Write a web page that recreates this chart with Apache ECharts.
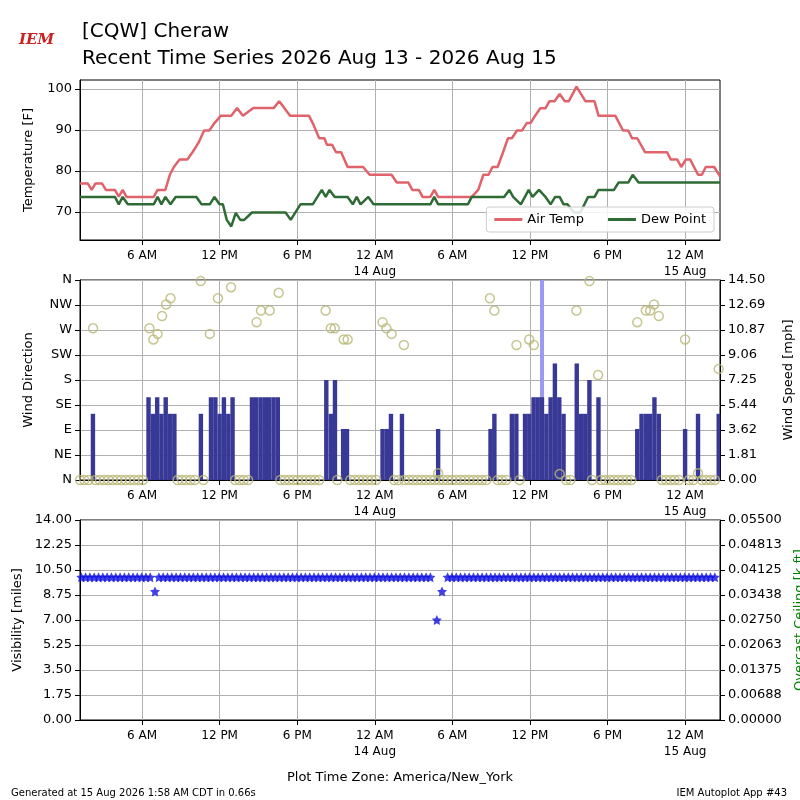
<!DOCTYPE html>
<html>
<head>
<meta charset="utf-8">
<script src="https://cdn.jsdelivr.net/npm/echarts@6/dist/echarts.min.js"></script>
<style>
html,body{margin:0;padding:0;background:#fff;}
#main{width:800px;height:800px;}
</style>
</head>
<body>
<div id="main"></div>
<script>
// hours relative to 13 Aug 6 AM (America/New_York)
var xMin = -4.8, xMax = 44.7;
var xTicks = [0, 6, 12, 18, 24, 30, 36, 42];

var airTemp = [[-4.8,77],[-4.2,77],[-3.9,75.4],[-3.6,77],[-3.1,77],[-2.8,75.4],[-2.1,75.4],[-1.8,73.8],[-1.5,75.4],[-1.2,73.7],
	[0.9,73.7],[1.2,75.4],[1.8,75.4],[2.15,79.1],[2.46,81],[2.9,82.8],[3.5,82.8],[3.9,84.6],[4.35,86.8],[4.8,89.9],
	[5.2,89.9],[5.6,91.7],[6.1,93.5],[6.9,93.5],[7.35,95.4],[7.8,93.5],[8.6,95.4],[10.2,95.4],[10.6,97],[11,95.4],
	[11.45,93.5],[12.9,93.5],[13.2,91.7],[13.7,88],[14.1,88],[14.3,86.4],[14.7,86.4],[15,84.6],[15.4,84.6],[15.9,81],
	[17.1,81],[17.6,79.1],[19.3,79.1],[19.7,77.2],[20.6,77.2],[20.9,75.4],[21.4,75.4],[21.7,73.7],[22.3,73.7],[22.6,75.4],
	[22.9,73.7],[25.5,73.7],[26,75.4],[26.4,79.1],[26.8,79.1],[27.1,81],[27.5,81],[27.9,84.4],[28.3,88],[28.6,88],
	[29,89.9],[29.4,89.9],[29.75,91.7],[30.05,91.7],[30.4,93.5],[30.8,95.3],[31.2,95.3],[31.5,97],[31.9,97],[32.3,98.8],
	[32.7,97],[33,97],[33.6,100.6],[34.3,97],[35,97],[35.3,93.5],[36.6,93.5],[37.2,89.9],[37.6,89.9],[37.9,88],
	[38.3,88],[38.9,84.6],[40.6,84.6],[40.9,82.8],[41.4,82.8],[41.7,81],[42.05,82.8],[42.4,82.8],[43,79.1],[43.3,79.1],
	[43.6,81],[44.25,81],[44.7,78.7]];

var dewPoint = [[-4.8,73.7],[-2.1,73.7],[-1.8,71.9],[-1.5,73.7],[-1.1,71.9],[0.9,71.9],[1.2,73.7],[1.5,71.9],[1.8,73.7],
	[2.2,71.9],[2.6,73.7],[4.2,73.7],[4.6,71.9],[5.24,71.9],[5.6,73.7],[5.99,71.9],[6.25,71.9],[6.55,68.1],[6.9,66.5],
	[7.25,69.8],[7.6,68.1],[7.9,68.1],[8.5,69.9],[11.1,69.9],[11.5,68.1],[12.25,71.9],[13.2,71.9],[13.9,75.4],[14.2,73.7],
	[14.5,75.4],[14.9,73.7],[15.9,73.7],[16.3,71.9],[16.6,73.7],[16.9,71.9],[17.5,73.7],[17.9,71.9],[22.3,71.9],[22.6,73.7],
	[22.9,71.9],[25.2,71.9],[25.5,73.7],[28,73.7],[28.4,75.4],[28.7,73.7],[29.3,71.9],[29.9,75.4],[30.2,73.7],[30.7,75.4],
	[31.2,73.7],[31.6,71.9],[31.95,73.7],[32.3,73.7],[32.6,71.9],[32.9,71.9],[33.4,69.9],[33.9,69.9],[34.5,73.7],[35,73.7],
	[35.3,75.4],[36.5,75.4],[36.85,77.2],[37.6,77.2],[37.95,79.1],[38.4,77.2],[44.7,77.2]];

var windSpeed = [[-3.8,4.8],
	[0.5,6.0],[0.83,4.8],[1.17,6.0],[1.5,4.8],[1.83,6.0],[2.17,4.8],[2.5,4.8],
	[4.55,4.8],
	[5.33,6.0],[5.67,6.0],[6.0,4.8],[6.33,6.0],[6.67,4.8],[7.0,6.0],
	[8.5,6.0],[8.83,6.0],[9.17,6.0],[9.5,6.0],[9.83,6.0],[10.17,6.0],[10.5,6.0],
	[14.25,7.25],[14.6,4.8],[14.92,7.25],
	[15.55,3.7],[15.85,3.7],
	[18.6,3.7],[18.93,3.7],[19.25,4.8],
	[20.1,4.8],
	[22.9,3.7],
	[26.95,3.7],[27.25,4.8],
	[28.6,4.8],[28.95,4.8],
	[29.62,4.8],[29.95,4.8],[30.28,6.0],[30.6,6.0],[30.93,6.0],[31.27,4.8],[31.6,6.0],[31.93,8.45],[32.27,6.0],[32.6,4.8],
	[33.62,8.45],[33.95,4.8],[34.28,4.8],[34.6,7.25],
	[35.3,6.0],
	[38.3,3.7],[38.63,4.8],[38.97,4.8],[39.3,4.8],[39.63,6.0],[39.97,4.8],
	[42.0,3.7],
	[43.0,4.8],
	[44.6,4.8]];

var windGust = [[30.95,14.5]];

var windDir = [[-3.79,273],[0.57,273],[0.88,253],[1.2,263],[1.55,295],[1.86,316],[2.2,327],[4.54,358],[5.24,263],[5.87,327],
	[6.88,347],[8.86,284],[9.2,305],[9.87,305],[10.57,337],[14.2,305],[14.6,273],[14.9,273],[15.6,253],[15.9,253],
	[18.6,284],[18.9,273],[19.3,263],[20.25,243],[22.9,12],[26.9,327],[27.25,305],[28.96,243],[29.94,253],[30.3,243],
	[32.3,11],[33.6,305],[34.6,358],[35.27,189],[38.3,284],[38.96,305],[39.3,305],[39.6,316],[39.97,295],[42.0,253],
	[43.0,12],[44.6,200]];

// periods of calm (direction 0), 20 minute observations
var calmSpans = [[-4.8,-3.95],[-3.6,0.2],[2.75,4.4],[4.75,5.0],[7.2,8.2],[10.7,14.0],[15.1,15.3],[16.1,18.4],[19.5,20.0],
	[20.3,26.8],[27.5,28.3],[29.2,29.3],[32.8,33.4],[34.8,35.1],[35.5,38.1],[40.2,41.7],[42.3,42.7],[43.3,44.4]];

var visSpan = [-4.7, 44.6];
var visLow = [[1.0,9.0],[22.8,7.0],[23.2,9.0]];

var dirLabels = ['N','NE','E','SE','S','SW','W','NW','N'];
var windTickLabels = ['0.00','1.81','3.62','5.44','7.25','9.06','10.87','12.69','14.50'];
var visTickLabels = ['0.00','1.75','3.50','5.25','7.00','8.75','10.50','12.25','14.00'];
var ceilTickLabels = ['0.00000','0.00688','0.01375','0.02063','0.02750','0.03438','0.04125','0.04813','0.05500'];

var calm = [];
calmSpans.forEach(function(s){
	for (var t = s[0]; t <= s[1] + 0.01; t += 1/3) calm.push([t, 0]);
});
var vis = [];
for (var t = visSpan[0]; t <= visSpan[1] + 0.01; t += 1/3) {
	var skip = false;
	visLow.forEach(function(v){ if (Math.abs(v[0] - t) < 0.17) skip = true; });
	if (!skip) vis.push([t, 10]);
}
visLow.forEach(function(v){ vis.push(v); });

var font = 'DejaVu Sans';
var star = 'path://M0,-10L2.9,-4L9.5,-3.1L4.8,1.5L5.9,8.1L0,5L-5.9,8.1L-4.8,1.5L-9.5,-3.1L-2.9,-4Z';

var xLabel = function(v){
	var h = ((Math.round(v) % 24) + 24) % 24;
	if (h == 0) return '6 AM';
	if (h == 6) return '12 PM';
	if (h == 12) return '6 PM';
	return '12 AM\n' + (v < 24 ? '14 Aug' : '15 Aug');
};

var xAxisFor = function(idx){
	return {
		type: 'value', gridIndex: idx, min: xMin, max: xMax,
		axisLine: {onZero: false, lineStyle: {color: '#000'}},
		axisTick: {show: true, customValues: xTicks, lineStyle: {color: '#000'}},
		axisLabel: {customValues: xTicks, formatter: xLabel, color: '#000', fontFamily: font, fontSize: 12, lineHeight: 16},
		splitLine: {show: true, lineStyle: {color: '#b0b0b0'}}
	};
};

var yLine = {show: true, onZero: false, lineStyle: {color: '#000'}};

var chart = echarts.init(document.getElementById('main'));
chart.setOption({
	animation: false,
	textStyle: {fontFamily: font},
	title: [
		{text: 'IEM', left: 14, top: 28, textStyle: {color: '#cc2222', fontSize: 15, fontStyle: 'italic', fontWeight: 'bold', fontFamily: 'DejaVu Serif'}},
		{text: '[CQW] Cheraw\nRecent Time Series 2026 Aug 13 - 2026 Aug 15', left: 77, top: 13,
			textStyle: {fontSize: 20, fontWeight: 'normal', lineHeight: 27, color: '#000', fontFamily: font}},
		{text: 'Plot Time Zone: America/New_York', left: 'center', top: 766, textStyle: {fontSize: 13, fontWeight: 'normal', color: '#000', fontFamily: font}},
		{text: 'Generated at 15 Aug 2026 1:58 AM CDT in 0.66s', left: 6, top: 783, textStyle: {fontSize: 10, fontWeight: 'normal', color: '#000', fontFamily: font}},
		{text: 'IEM Autoplot App #43', right: 8, top: 783, textStyle: {fontSize: 10, fontWeight: 'normal', color: '#000', fontFamily: font}}
	],
	legend: {
		data: ['Air Temp', 'Dew Point'], right: 86, top: 207, itemWidth: 28, itemHeight: 3, itemGap: 24,
		backgroundColor: 'rgba(255,255,255,0.85)', borderColor: '#ccc', borderWidth: 1, borderRadius: 3, padding: [6, 8],
		textStyle: {fontSize: 13, color: '#000', fontFamily: font}, icon: 'rect'
	},
	grid: [
		{left: 80, right: 80, top: 80, height: 160, show: true, borderColor: '#000', borderWidth: 1, outerBoundsMode: 'none'},
		{left: 80, right: 80, top: 280, height: 200, show: true, borderColor: '#000', borderWidth: 1, outerBoundsMode: 'none'},
		{left: 80, right: 80, top: 520, height: 200, show: true, borderColor: '#000', borderWidth: 1, outerBoundsMode: 'none'}
	],
	xAxis: [xAxisFor(0), xAxisFor(1), xAxisFor(2)],
	yAxis: [
		{type: 'value', gridIndex: 0, min: 63.2, max: 102.2, name: 'Temperature [F]', nameLocation: 'middle', nameGap: 45,
			nameTextStyle: {fontSize: 13, color: '#000'},
			axisLine: yLine, axisTick: {show: true, customValues: [70,80,90,100]},
			axisLabel: {customValues: [70,80,90,100], fontSize: 13, color: '#000'},
			splitLine: {show: true, lineStyle: {color: '#b0b0b0'}}},
		{type: 'value', gridIndex: 1, min: 0, max: 360, interval: 45, name: 'Wind Direction', nameLocation: 'middle', nameGap: 45,
			nameTextStyle: {fontSize: 13, color: '#000'},
			axisLine: yLine, axisTick: {show: true},
			axisLabel: {fontSize: 13, color: '#000', formatter: function(v){ return dirLabels[Math.round(v / 45)]; }},
			splitLine: {show: true, lineStyle: {color: '#b0b0b0'}}},
		{type: 'value', gridIndex: 1, position: 'right', min: 0, max: 14.5, interval: 1.8125, name: 'Wind Speed [mph]', nameLocation: 'middle', nameGap: 62,
			nameRotate: 90, nameTextStyle: {fontSize: 13, color: '#000'},
			axisLine: yLine, axisTick: {show: true},
			axisLabel: {fontSize: 13, color: '#000', formatter: function(v){ return windTickLabels[Math.round(v / 1.8125)]; }},
			splitLine: {show: false}},
		{type: 'value', gridIndex: 2, min: 0, max: 14, interval: 1.75, name: 'Visibility [miles]', nameLocation: 'middle', nameGap: 52,
			nameTextStyle: {fontSize: 13, color: '#000'},
			axisLine: yLine, axisTick: {show: true},
			axisLabel: {fontSize: 13, color: '#000', formatter: function(v){ return visTickLabels[Math.round(v / 1.75)]; }},
			splitLine: {show: true, lineStyle: {color: '#b0b0b0'}}},
		{type: 'value', gridIndex: 2, position: 'right', min: 0, max: 14, interval: 1.75, name: 'Overcast Ceiling [k ft]', nameLocation: 'middle', nameGap: 70,
			nameRotate: 90, nameTextStyle: {fontSize: 13, color: 'green'},
			axisLine: yLine, axisTick: {show: true},
			axisLabel: {fontSize: 13, color: '#000', formatter: function(v){ return ceilTickLabels[Math.round(v / 1.75)]; }},
			splitLine: {show: false}}
	],
	series: [
		{name: 'Air Temp', type: 'line', xAxisIndex: 0, yAxisIndex: 0, data: airTemp, showSymbol: false,
			lineStyle: {color: '#e0636b', width: 2.5}, itemStyle: {color: '#e0636b'}},
		{name: 'Dew Point', type: 'line', xAxisIndex: 0, yAxisIndex: 0, data: dewPoint, showSymbol: false,
			lineStyle: {color: '#2f6b35', width: 2.5}, itemStyle: {color: '#2f6b35'}},
		{name: 'Gust', type: 'bar', xAxisIndex: 1, yAxisIndex: 2, data: windGust, barWidth: 4, barGap: '-100%',
			itemStyle: {color: '#9a9af0'}, z: 1},
		{name: 'Wind', type: 'bar', xAxisIndex: 1, yAxisIndex: 2, data: windSpeed, barWidth: 4.4, barGap: '-100%',
			itemStyle: {color: '#383896'}, z: 3},
		{name: 'Dir', type: 'scatter', xAxisIndex: 1, yAxisIndex: 1, data: windDir.concat(calm), symbol: 'circle', symbolSize: 9,
			itemStyle: {color: 'rgba(0,0,0,0)', borderColor: '#b9b878', borderWidth: 1.5}, z: 5},
		{name: 'Vis', type: 'scatter', xAxisIndex: 2, yAxisIndex: 3, data: vis, symbol: star, symbolSize: 10,
			itemStyle: {color: '#1010e0'}}
	]
});
</script>
</body>
</html>
